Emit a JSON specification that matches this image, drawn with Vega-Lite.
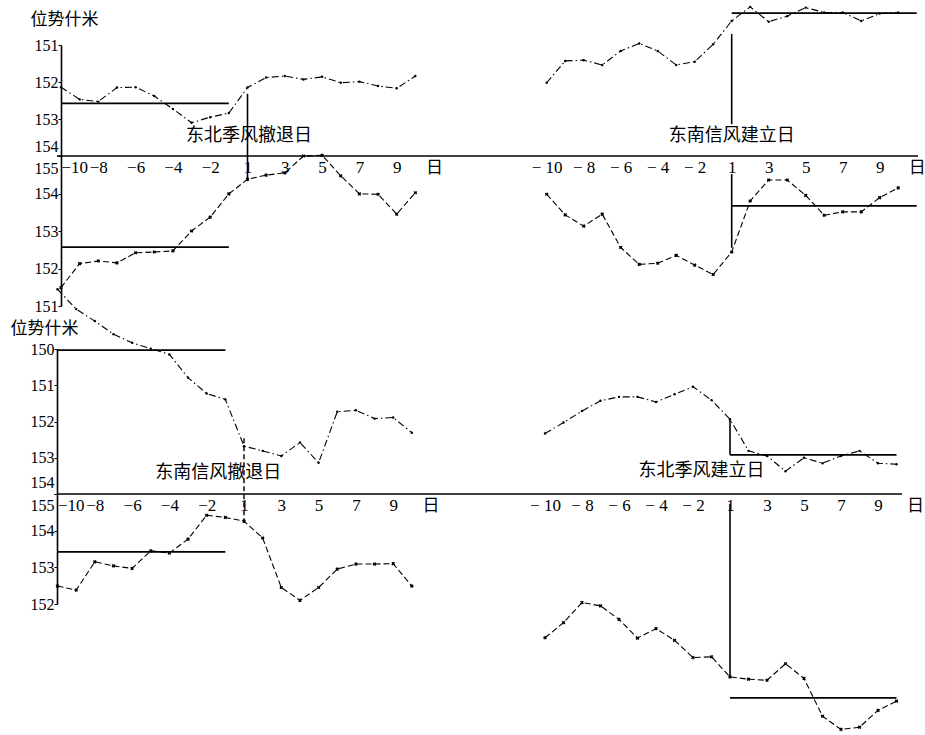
{
  "$schema": "https://vega.github.io/schema/vega-lite/v6.json",
  "background": "white",
  "padding": {"left": 10, "top": 4, "right": 2, "bottom": 2},
  "config": {"view": {"stroke": null}, "axis": {"grid": false}},
  "datasets": {
    "series": [
      {"panel": "TL", "curve": "upper", "day": -10, "value": 152.14},
      {"panel": "TL", "curve": "upper", "day": -9, "value": 152.47},
      {"panel": "TL", "curve": "upper", "day": -8, "value": 152.53},
      {"panel": "TL", "curve": "upper", "day": -7, "value": 152.15},
      {"panel": "TL", "curve": "upper", "day": -6, "value": 152.14},
      {"panel": "TL", "curve": "upper", "day": -5, "value": 152.38},
      {"panel": "TL", "curve": "upper", "day": -4, "value": 152.73},
      {"panel": "TL", "curve": "upper", "day": -3, "value": 153.1},
      {"panel": "TL", "curve": "upper", "day": -2, "value": 152.95},
      {"panel": "TL", "curve": "upper", "day": -1, "value": 152.84},
      {"panel": "TL", "curve": "upper", "day": 1, "value": 152.15},
      {"panel": "TL", "curve": "upper", "day": 2, "value": 151.88},
      {"panel": "TL", "curve": "upper", "day": 3, "value": 151.84},
      {"panel": "TL", "curve": "upper", "day": 4, "value": 151.93},
      {"panel": "TL", "curve": "upper", "day": 5, "value": 151.86},
      {"panel": "TL", "curve": "upper", "day": 6, "value": 152.02},
      {"panel": "TL", "curve": "upper", "day": 7, "value": 151.99},
      {"panel": "TL", "curve": "upper", "day": 8, "value": 152.11},
      {"panel": "TL", "curve": "upper", "day": 9, "value": 152.17},
      {"panel": "TL", "curve": "upper", "day": 10, "value": 151.84},

      {"panel": "TL", "curve": "lower", "day": -10, "value": 151.49},
      {"panel": "TL", "curve": "lower", "day": -9, "value": 152.13},
      {"panel": "TL", "curve": "lower", "day": -8, "value": 152.2},
      {"panel": "TL", "curve": "lower", "day": -7, "value": 152.15},
      {"panel": "TL", "curve": "lower", "day": -6, "value": 152.42},
      {"panel": "TL", "curve": "lower", "day": -5, "value": 152.44},
      {"panel": "TL", "curve": "lower", "day": -4, "value": 152.47},
      {"panel": "TL", "curve": "lower", "day": -3, "value": 153.0},
      {"panel": "TL", "curve": "lower", "day": -2, "value": 153.37},
      {"panel": "TL", "curve": "lower", "day": -1, "value": 153.99},
      {"panel": "TL", "curve": "lower", "day": 1, "value": 154.38},
      {"panel": "TL", "curve": "lower", "day": 2, "value": 154.49},
      {"panel": "TL", "curve": "lower", "day": 3, "value": 154.55},
      {"panel": "TL", "curve": "lower", "day": 4, "value": 155.0},
      {"panel": "TL", "curve": "lower", "day": 5, "value": 155.02},
      {"panel": "TL", "curve": "lower", "day": 6, "value": 154.47},
      {"panel": "TL", "curve": "lower", "day": 7, "value": 153.99},
      {"panel": "TL", "curve": "lower", "day": 8, "value": 153.98},
      {"panel": "TL", "curve": "lower", "day": 9, "value": 153.45},
      {"panel": "TL", "curve": "lower", "day": 10, "value": 154.02},

      {"panel": "TR", "curve": "upper", "day": -10, "value": 152.02},
      {"panel": "TR", "curve": "upper", "day": -9, "value": 151.43},
      {"panel": "TR", "curve": "upper", "day": -8, "value": 151.41},
      {"panel": "TR", "curve": "upper", "day": -7, "value": 151.54},
      {"panel": "TR", "curve": "upper", "day": -6, "value": 151.16},
      {"panel": "TR", "curve": "upper", "day": -5, "value": 150.96},
      {"panel": "TR", "curve": "upper", "day": -4, "value": 151.16},
      {"panel": "TR", "curve": "upper", "day": -3, "value": 151.54},
      {"panel": "TR", "curve": "upper", "day": -2, "value": 151.45},
      {"panel": "TR", "curve": "upper", "day": -1, "value": 150.98},
      {"panel": "TR", "curve": "upper", "day": 1, "value": 150.35},
      {"panel": "TR", "curve": "upper", "day": 2, "value": 149.97},
      {"panel": "TR", "curve": "upper", "day": 3, "value": 150.37},
      {"panel": "TR", "curve": "upper", "day": 4, "value": 150.22},
      {"panel": "TR", "curve": "upper", "day": 5, "value": 149.99},
      {"panel": "TR", "curve": "upper", "day": 6, "value": 150.12},
      {"panel": "TR", "curve": "upper", "day": 7, "value": 150.12},
      {"panel": "TR", "curve": "upper", "day": 8, "value": 150.35},
      {"panel": "TR", "curve": "upper", "day": 9, "value": 150.15},
      {"panel": "TR", "curve": "upper", "day": 10, "value": 150.12},

      {"panel": "TR", "curve": "lower", "day": -10, "value": 153.98},
      {"panel": "TR", "curve": "lower", "day": -9, "value": 153.43},
      {"panel": "TR", "curve": "lower", "day": -8, "value": 153.13},
      {"panel": "TR", "curve": "lower", "day": -7, "value": 153.45},
      {"panel": "TR", "curve": "lower", "day": -6, "value": 152.56},
      {"panel": "TR", "curve": "lower", "day": -5, "value": 152.11},
      {"panel": "TR", "curve": "lower", "day": -4, "value": 152.14},
      {"panel": "TR", "curve": "lower", "day": -3, "value": 152.35},
      {"panel": "TR", "curve": "lower", "day": -2, "value": 152.09},
      {"panel": "TR", "curve": "lower", "day": -1, "value": 151.84},
      {"panel": "TR", "curve": "lower", "day": 1, "value": 152.44},
      {"panel": "TR", "curve": "lower", "day": 2, "value": 153.8},
      {"panel": "TR", "curve": "lower", "day": 3, "value": 154.36},
      {"panel": "TR", "curve": "lower", "day": 4, "value": 154.36},
      {"panel": "TR", "curve": "lower", "day": 5, "value": 153.95},
      {"panel": "TR", "curve": "lower", "day": 6, "value": 153.42},
      {"panel": "TR", "curve": "lower", "day": 7, "value": 153.51},
      {"panel": "TR", "curve": "lower", "day": 8, "value": 153.51},
      {"panel": "TR", "curve": "lower", "day": 9, "value": 153.89},
      {"panel": "TR", "curve": "lower", "day": 10, "value": 154.15},

      {"panel": "BL", "curve": "upper", "day": -10, "value": 148.35},
      {"panel": "BL", "curve": "upper", "day": -9, "value": 148.9},
      {"panel": "BL", "curve": "upper", "day": -8, "value": 149.23},
      {"panel": "BL", "curve": "upper", "day": -7, "value": 149.59},
      {"panel": "BL", "curve": "upper", "day": -6, "value": 149.83},
      {"panel": "BL", "curve": "upper", "day": -5, "value": 149.99},
      {"panel": "BL", "curve": "upper", "day": -4, "value": 150.15},
      {"panel": "BL", "curve": "upper", "day": -3, "value": 150.79},
      {"panel": "BL", "curve": "upper", "day": -2, "value": 151.23},
      {"panel": "BL", "curve": "upper", "day": -1, "value": 151.39},
      {"panel": "BL", "curve": "upper", "day": 1, "value": 152.68},
      {"panel": "BL", "curve": "upper", "day": 2, "value": 152.81},
      {"panel": "BL", "curve": "upper", "day": 3, "value": 152.95},
      {"panel": "BL", "curve": "upper", "day": 4, "value": 152.58},
      {"panel": "BL", "curve": "upper", "day": 5, "value": 153.14},
      {"panel": "BL", "curve": "upper", "day": 6, "value": 151.73},
      {"panel": "BL", "curve": "upper", "day": 7, "value": 151.69},
      {"panel": "BL", "curve": "upper", "day": 8, "value": 151.92},
      {"panel": "BL", "curve": "upper", "day": 9, "value": 151.89},
      {"panel": "BL", "curve": "upper", "day": 10, "value": 152.31},

      {"panel": "BL", "curve": "lower", "day": -10, "value": 152.49},
      {"panel": "BL", "curve": "lower", "day": -9, "value": 152.38},
      {"panel": "BL", "curve": "lower", "day": -8, "value": 153.15},
      {"panel": "BL", "curve": "lower", "day": -7, "value": 153.04},
      {"panel": "BL", "curve": "lower", "day": -6, "value": 152.97},
      {"panel": "BL", "curve": "lower", "day": -5, "value": 153.45},
      {"panel": "BL", "curve": "lower", "day": -4, "value": 153.39},
      {"panel": "BL", "curve": "lower", "day": -3, "value": 153.77},
      {"panel": "BL", "curve": "lower", "day": -2, "value": 154.42},
      {"panel": "BL", "curve": "lower", "day": -1, "value": 154.36},
      {"panel": "BL", "curve": "lower", "day": 1, "value": 154.26},
      {"panel": "BL", "curve": "lower", "day": 2, "value": 153.8},
      {"panel": "BL", "curve": "lower", "day": 3, "value": 152.45},
      {"panel": "BL", "curve": "lower", "day": 4, "value": 152.1},
      {"panel": "BL", "curve": "lower", "day": 5, "value": 152.45},
      {"panel": "BL", "curve": "lower", "day": 6, "value": 152.95},
      {"panel": "BL", "curve": "lower", "day": 7, "value": 153.09},
      {"panel": "BL", "curve": "lower", "day": 8, "value": 153.09},
      {"panel": "BL", "curve": "lower", "day": 9, "value": 153.1},
      {"panel": "BL", "curve": "lower", "day": 10, "value": 152.49},

      {"panel": "BR", "curve": "upper", "day": -10, "value": 152.33},
      {"panel": "BR", "curve": "upper", "day": -9, "value": 152.03},
      {"panel": "BR", "curve": "upper", "day": -8, "value": 151.71},
      {"panel": "BR", "curve": "upper", "day": -7, "value": 151.43},
      {"panel": "BR", "curve": "upper", "day": -6, "value": 151.32},
      {"panel": "BR", "curve": "upper", "day": -5, "value": 151.32},
      {"panel": "BR", "curve": "upper", "day": -4, "value": 151.46},
      {"panel": "BR", "curve": "upper", "day": -3, "value": 151.25},
      {"panel": "BR", "curve": "upper", "day": -2, "value": 151.04},
      {"panel": "BR", "curve": "upper", "day": -1, "value": 151.41},
      {"panel": "BR", "curve": "upper", "day": 1, "value": 151.94},
      {"panel": "BR", "curve": "upper", "day": 2, "value": 152.81},
      {"panel": "BR", "curve": "upper", "day": 3, "value": 152.95},
      {"panel": "BR", "curve": "upper", "day": 4, "value": 153.37},
      {"panel": "BR", "curve": "upper", "day": 5, "value": 153.0},
      {"panel": "BR", "curve": "upper", "day": 6, "value": 153.15},
      {"panel": "BR", "curve": "upper", "day": 7, "value": 152.95},
      {"panel": "BR", "curve": "upper", "day": 8, "value": 152.81},
      {"panel": "BR", "curve": "upper", "day": 9, "value": 153.15},
      {"panel": "BR", "curve": "upper", "day": 10, "value": 153.18},

      {"panel": "BR", "curve": "lower", "day": -10, "value": 151.08},
      {"panel": "BR", "curve": "lower", "day": -9, "value": 151.49},
      {"panel": "BR", "curve": "lower", "day": -8, "value": 152.04},
      {"panel": "BR", "curve": "lower", "day": -7, "value": 151.95},
      {"panel": "BR", "curve": "lower", "day": -6, "value": 151.58},
      {"panel": "BR", "curve": "lower", "day": -5, "value": 151.07},
      {"panel": "BR", "curve": "lower", "day": -4, "value": 151.33},
      {"panel": "BR", "curve": "lower", "day": -3, "value": 151.01},
      {"panel": "BR", "curve": "lower", "day": -2, "value": 150.54},
      {"panel": "BR", "curve": "lower", "day": -1, "value": 150.56},
      {"panel": "BR", "curve": "lower", "day": 1, "value": 150.01},
      {"panel": "BR", "curve": "lower", "day": 2, "value": 149.95},
      {"panel": "BR", "curve": "lower", "day": 3, "value": 149.92},
      {"panel": "BR", "curve": "lower", "day": 4, "value": 150.37},
      {"panel": "BR", "curve": "lower", "day": 5, "value": 149.97},
      {"panel": "BR", "curve": "lower", "day": 6, "value": 148.94},
      {"panel": "BR", "curve": "lower", "day": 7, "value": 148.58},
      {"panel": "BR", "curve": "lower", "day": 8, "value": 148.64},
      {"panel": "BR", "curve": "lower", "day": 9, "value": 149.1},
      {"panel": "BR", "curve": "lower", "day": 10, "value": 149.35}
    ],
    "levels": [
      {"panel": "TL", "curve": "upper", "day": -10, "end": -1, "value": 152.58},
      {"panel": "TL", "curve": "lower", "day": -10, "end": -1, "value": 152.57},
      {"panel": "TR", "curve": "upper", "day": 1, "end": 11, "value": 150.14},
      {"panel": "TR", "curve": "lower", "day": 1, "end": 11, "value": 153.67},
      {"panel": "BL", "curve": "upper", "day": -10, "end": -1, "value": 150.03},
      {"panel": "BL", "curve": "lower", "day": -10, "end": -1, "value": 153.42},
      {"panel": "BR", "curve": "upper", "day": 1, "end": 10, "value": 152.92},
      {"panel": "BR", "curve": "lower", "day": 1, "end": 10, "value": 149.44}
    ],
    "markers": [
      {"panel": "TL", "curve": "upper", "day": 1, "top": 152.32, "bottom": 154.68},
      {"panel": "TR", "curve": "upper", "day": 1, "top": 150.7, "bottom": 153.14},
      {"panel": "TR", "curve": "lower", "day": 1, "top": 154.52, "bottom": 152.55},
      {"panel": "BL", "curve": "upper", "day": 1, "top": 152.46, "bottom": 154.8},
      {"panel": "BR", "curve": "upper", "day": 1, "top": 151.93, "bottom": 152.92},
      {"panel": "BR", "curve": "lower", "day": 1, "top": 154.73, "bottom": 150.01}
    ],
    "notes": [
      {"panel": "TL", "label": "东北季风撤退日", "day": 1, "value": 153.46},
      {"panel": "TR", "label": "东南信风建立日", "day": 1, "value": 153.46},
      {"panel": "BL", "label": "东南信风撤退日", "day": -1, "value": 153.42},
      {"panel": "BR", "label": "东北季风建立日", "day": -1, "value": 153.37}
    ]
  },
  "bounds": "flush",
  "align": "each",
  "columns": 2,
  "spacing": {"row": 43, "column": 0},
  "concat": [
        {
          "width": 403,
          "height": 261,
          "layer": [
            {
              "data": {"values": [{}]},
              "mark": {"type": "rule", "color": "black", "strokeWidth": 1.6},
              "encoding": {"y": {"datum": 154, "type": "quantitative", "scale": {"domain": [151, 158.054], "reverse": true, "zero": false, "nice": false}, "axis": null}}
            },
            {
              "encoding": {
                "x": {
                  "field": "day", "type": "ordinal",
                  "scale": {"type": "point", "domain": [-10, -9, -8, -7, -6, -5, -4, -3, -2, -1, 1, 2, 3, 4, 5, 6, 7, 8, 9, 10, 11], "range": [4, 377], "padding": 0},
                  "axis": {
                    "orient": "bottom", "offset": -150, "values": [-10, -8, -6, -4, -2, 1, 3, 5, 7, 9, 11],
                    "domain": false, "ticks": false, "title": null, "labelAngle": 0, "labelPadding": 3,
                    "labelFontSize": 17, "labelColor": "black", "labelOverlap": false, "labelFlush": false,
                    "labelFont": {"condition": {"test": "datum.value === 11", "value": "Noto Sans CJK SC"}, "value": "Liberation Serif"},
                    "labelAlign": {"condition": {"test": "datum.value === -10", "value": "left"}, "value": "center"},
                    "labelExpr": "datum.value === 11 ? '日' : (datum.value < 0 ? '−' + (-datum.value) : datum.label)"
                  }
                }
              },
              "layer": [
                {
                  "data": {"name": "series"},
                  "transform": [{"filter": "datum.panel === 'TL' && datum.curve === 'upper'"}],
                  "mark": {"type": "line", "color": "black", "strokeWidth": 1.1, "strokeDash": [7, 3, 1.5, 3]},
                  "encoding": {"y": {"field": "value", "type": "quantitative", "scale": {"domain": [151, 158.054], "reverse": true, "zero": false, "nice": false},
                    "axis": {
                      "orient": "left", "offset": -4, "values": [151, 152, 153, 154], "format": "d",
                      "title": "位势什米", "titleAngle": 0, "titleAlign": "left", "titleBaseline": "alphabetic", "titleX": -31, "titleY": -21,
                      "titleFont": "Noto Sans CJK SC", "titleFontSize": 17, "titleFontWeight": "normal", "titleColor": "black",
                      "domain": true, "domainColor": "black", "domainWidth": 1.6, "ticks": true, "tickSize": 3, "tickColor": "black",
                      "labelFont": "Liberation Serif", "labelFontSize": 16, "labelColor": "black", "labelPadding": 0,
                      "labelOverlap": false, "labelFlush": false,
                      "labelOffset": {"condition": {"test": "datum.value === 154", "value": -10}, "value": 0}
                    }}}
                },
                {
                  "data": {"name": "series"},
                  "transform": [{"filter": "datum.panel === 'TL' && datum.curve === 'upper'"}],
                  "mark": {"type": "point", "filled": true, "color": "black", "size": 6, "opacity": 1},
                  "encoding": {"y": {"field": "value", "type": "quantitative", "scale": {"domain": [151, 158.054], "reverse": true, "zero": false, "nice": false}}}
                },
                {
                  "data": {"name": "levels"},
                  "transform": [{"filter": "datum.panel === 'TL' && datum.curve === 'upper'"}],
                  "mark": {"type": "rule", "color": "black", "strokeWidth": 1.8},
                  "encoding": {"x2": {"field": "end"}, "y": {"field": "value", "type": "quantitative", "scale": {"domain": [151, 158.054], "reverse": true, "zero": false, "nice": false}}}
                },
                {
                  "data": {"name": "markers"},
                  "transform": [{"filter": "datum.panel === 'TL' && datum.curve === 'upper'"}],
                  "mark": {"type": "rule", "color": "black", "strokeWidth": 1.6},
                  "encoding": {"y": {"field": "top", "type": "quantitative", "scale": {"domain": [151, 158.054], "reverse": true, "zero": false, "nice": false}}, "y2": {"field": "bottom"}}
                },
                {
                  "data": {"name": "notes"},
                  "transform": [{"filter": "datum.panel === 'TL'"}],
                  "mark": {"type": "text", "font": "Noto Sans CJK SC", "fontSize": 18, "color": "black", "align": "center", "baseline": "middle", "dx": 1.5},
                  "encoding": {"y": {"field": "value", "type": "quantitative", "scale": {"domain": [151, 158.054], "reverse": true, "zero": false, "nice": false}}, "text": {"field": "label"}}
                }
              ]
            },
            {
              "encoding": {
                "x": {
                  "field": "day", "type": "ordinal",
                  "scale": {"type": "point", "domain": [-10, -9, -8, -7, -6, -5, -4, -3, -2, -1, 1, 2, 3, 4, 5, 6, 7, 8, 9, 10, 11], "range": [4, 377], "padding": 0}
                }
              },
              "layer": [
                {
                  "data": {"name": "series"},
                  "transform": [{"filter": "datum.panel === 'TL' && datum.curve === 'lower'"}],
                  "mark": {"type": "line", "color": "black", "strokeWidth": 1.1, "strokeDash": [6, 3]},
                  "encoding": {"y": {"field": "value", "type": "quantitative", "scale": {"domain": [151, 157.96], "zero": false, "nice": false},
                    "axis": {
                      "orient": "left", "offset": -4, "values": [151, 152, 153, 154, 155], "format": "d", "title": null,
                      "domain": false, "ticks": true, "tickSize": 3, "tickColor": "black",
                      "labelFont": "Liberation Serif", "labelFontSize": 16, "labelColor": "black", "labelPadding": 0,
                      "labelOverlap": false, "labelFlush": false,
                      "labelOffset": {"condition": {"test": "datum.value === 155", "value": 12}, "value": 0}
                    }}}
                },
                {
                  "data": {"name": "series"},
                  "transform": [{"filter": "datum.panel === 'TL' && datum.curve === 'lower'"}],
                  "mark": {"type": "point", "shape": "cross", "angle": 45, "filled": true, "color": "black", "size": 14, "opacity": 1},
                  "encoding": {"y": {"field": "value", "type": "quantitative", "scale": {"domain": [151, 157.96], "zero": false, "nice": false}}}
                },
                {
                  "data": {"name": "levels"},
                  "transform": [{"filter": "datum.panel === 'TL' && datum.curve === 'lower'"}],
                  "mark": {"type": "rule", "color": "black", "strokeWidth": 1.8},
                  "encoding": {"x2": {"field": "end"}, "y": {"field": "value", "type": "quantitative", "scale": {"domain": [151, 157.96], "zero": false, "nice": false}}}
                }
              ]
            }
          ],
          "resolve": {"scale": {"y": "independent"}, "axis": {"y": "independent"}}
        },
        {
          "width": 458,
          "height": 261,
          "layer": [
            {
              "data": {"values": [{}]},
              "mark": {"type": "rule", "color": "black", "strokeWidth": 1.6},
              "encoding": {"y": {"datum": 154, "type": "quantitative", "scale": {"domain": [151, 158.054], "reverse": true, "zero": false, "nice": false}, "axis": null}}
            },
            {
              "encoding": {
                "x": {
                  "field": "day", "type": "ordinal",
                  "scale": {"type": "point", "domain": [-10, -9, -8, -7, -6, -5, -4, -3, -2, -1, 1, 2, 3, 4, 5, 6, 7, 8, 9, 10, 11], "range": [86.7, 456.7], "padding": 0},
                  "axis": {
                    "orient": "bottom", "offset": -150, "values": [-10, -8, -6, -4, -2, 1, 3, 5, 7, 9, 11],
                    "domain": false, "ticks": false, "title": null, "labelAngle": 0, "labelPadding": 3,
                    "labelFontSize": 17, "labelColor": "black", "labelOverlap": false, "labelFlush": false,
                    "labelFont": {"condition": {"test": "datum.value === 11", "value": "Noto Sans CJK SC"}, "value": "Liberation Serif"},
                    "labelAlign": "center",
                    "labelExpr": "datum.value === 11 ? '日' : (datum.value < 0 ? '− ' + (-datum.value) : datum.label)"
                  }
                }
              },
              "layer": [
                {
                  "data": {"name": "series"},
                  "transform": [{"filter": "datum.panel === 'TR' && datum.curve === 'upper'"}],
                  "mark": {"type": "line", "color": "black", "strokeWidth": 1.1, "strokeDash": [7, 3, 1.5, 3]},
                  "encoding": {"y": {"field": "value", "type": "quantitative", "scale": {"domain": [151, 158.054], "reverse": true, "zero": false, "nice": false}, "axis": null}}
                },
                {
                  "data": {"name": "series"},
                  "transform": [{"filter": "datum.panel === 'TR' && datum.curve === 'upper'"}],
                  "mark": {"type": "point", "filled": true, "color": "black", "size": 6, "opacity": 1},
                  "encoding": {"y": {"field": "value", "type": "quantitative", "scale": {"domain": [151, 158.054], "reverse": true, "zero": false, "nice": false}, "axis": null}}
                },
                {
                  "data": {"name": "levels"},
                  "transform": [{"filter": "datum.panel === 'TR' && datum.curve === 'upper'"}],
                  "mark": {"type": "rule", "color": "black", "strokeWidth": 1.8},
                  "encoding": {"x2": {"field": "end"}, "y": {"field": "value", "type": "quantitative", "scale": {"domain": [151, 158.054], "reverse": true, "zero": false, "nice": false}, "axis": null}}
                },
                {
                  "data": {"name": "markers"},
                  "transform": [{"filter": "datum.panel === 'TR' && datum.curve === 'upper'"}],
                  "mark": {"type": "rule", "color": "black", "strokeWidth": 1.6},
                  "encoding": {"y": {"field": "top", "type": "quantitative", "scale": {"domain": [151, 158.054], "reverse": true, "zero": false, "nice": false}, "axis": null}, "y2": {"field": "bottom"}}
                },
                {
                  "data": {"name": "notes"},
                  "transform": [{"filter": "datum.panel === 'TR'"}],
                  "mark": {"type": "text", "font": "Noto Sans CJK SC", "fontSize": 18, "color": "black", "align": "center", "baseline": "middle"},
                  "encoding": {"y": {"field": "value", "type": "quantitative", "scale": {"domain": [151, 158.054], "reverse": true, "zero": false, "nice": false}, "axis": null}, "text": {"field": "label"}}
                }
              ]
            },
            {
              "encoding": {
                "x": {
                  "field": "day", "type": "ordinal",
                  "scale": {"type": "point", "domain": [-10, -9, -8, -7, -6, -5, -4, -3, -2, -1, 1, 2, 3, 4, 5, 6, 7, 8, 9, 10, 11], "range": [86.7, 456.7], "padding": 0}
                }
              },
              "layer": [
                {
                  "data": {"name": "series"},
                  "transform": [{"filter": "datum.panel === 'TR' && datum.curve === 'lower'"}],
                  "mark": {"type": "line", "color": "black", "strokeWidth": 1.1, "strokeDash": [6, 3]},
                  "encoding": {"y": {"field": "value", "type": "quantitative", "scale": {"domain": [151, 157.96], "zero": false, "nice": false}, "axis": null}}
                },
                {
                  "data": {"name": "series"},
                  "transform": [{"filter": "datum.panel === 'TR' && datum.curve === 'lower'"}],
                  "mark": {"type": "point", "shape": "cross", "angle": 45, "filled": true, "color": "black", "size": 14, "opacity": 1},
                  "encoding": {"y": {"field": "value", "type": "quantitative", "scale": {"domain": [151, 157.96], "zero": false, "nice": false}, "axis": null}}
                },
                {
                  "data": {"name": "levels"},
                  "transform": [{"filter": "datum.panel === 'TR' && datum.curve === 'lower'"}],
                  "mark": {"type": "rule", "color": "black", "strokeWidth": 1.8},
                  "encoding": {"x2": {"field": "end"}, "y": {"field": "value", "type": "quantitative", "scale": {"domain": [151, 157.96], "zero": false, "nice": false}, "axis": null}}
                },
                {
                  "data": {"name": "markers"},
                  "transform": [{"filter": "datum.panel === 'TR' && datum.curve === 'lower'"}],
                  "mark": {"type": "rule", "color": "black", "strokeWidth": 1.6},
                  "encoding": {"y": {"field": "top", "type": "quantitative", "scale": {"domain": [151, 157.96], "zero": false, "nice": false}, "axis": null}, "y2": {"field": "bottom"}}
                }
              ]
            }
          ],
          "resolve": {"scale": {"y": "independent"}, "axis": {"y": "independent"}}
        },
        {
          "width": 403,
          "height": 255,
          "layer": [
            {
              "data": {"values": [{}]},
              "mark": {"type": "rule", "color": "black", "strokeWidth": 1.6},
              "encoding": {"y": {"datum": 154, "type": "quantitative", "scale": {"domain": [150, 157.034], "reverse": true, "zero": false, "nice": false}, "axis": null}}
            },
            {
              "encoding": {
                "x": {
                  "field": "day", "type": "ordinal",
                  "scale": {"type": "point", "domain": [-10, -9, -8, -7, -6, -5, -4, -3, -2, -1, 1, 2, 3, 4, 5, 6, 7, 8, 9, 10, 11], "range": [0.5, 373.5], "padding": 0},
                  "axis": {
                    "orient": "bottom", "offset": -110, "values": [-10, -8, -6, -4, -2, 1, 3, 5, 7, 9, 11],
                    "domain": false, "ticks": false, "title": null, "labelAngle": 0, "labelPadding": 3,
                    "labelFontSize": 17, "labelColor": "black", "labelOverlap": false, "labelFlush": false,
                    "labelFont": {"condition": {"test": "datum.value === 11", "value": "Noto Sans CJK SC"}, "value": "Liberation Serif"},
                    "labelAlign": {"condition": {"test": "datum.value === -10", "value": "left"}, "value": "center"},
                    "labelExpr": "datum.value === 11 ? '日' : (datum.value < 0 ? '−' + (-datum.value) : datum.label)"
                  }
                }
              },
              "layer": [
                {
                  "data": {"name": "series"},
                  "transform": [{"filter": "datum.panel === 'BL' && datum.curve === 'upper'"}],
                  "mark": {"type": "line", "color": "black", "strokeWidth": 1.1, "strokeDash": [7, 3, 1.5, 3]},
                  "encoding": {"y": {"field": "value", "type": "quantitative", "scale": {"domain": [150, 157.034], "reverse": true, "zero": false, "nice": false},
                    "axis": {
                      "orient": "left", "offset": 0, "values": [150, 151, 152, 153, 154], "format": "d",
                      "title": "位势什米", "titleAngle": 0, "titleAlign": "left", "titleBaseline": "alphabetic", "titleX": -47, "titleY": -16,
                      "titleFont": "Noto Sans CJK SC", "titleFontSize": 17, "titleFontWeight": "normal", "titleColor": "black",
                      "domain": true, "domainColor": "black", "domainWidth": 1.6, "ticks": true, "tickSize": 3, "tickColor": "black",
                      "labelFont": "Liberation Serif", "labelFontSize": 16, "labelColor": "black", "labelPadding": 0,
                      "labelOverlap": false, "labelFlush": false,
                      "labelOffset": {"condition": {"test": "datum.value === 154", "value": -12}, "value": 0}
                    }}}
                },
                {
                  "data": {"name": "series"},
                  "transform": [{"filter": "datum.panel === 'BL' && datum.curve === 'upper'"}],
                  "mark": {"type": "point", "filled": true, "color": "black", "size": 6, "opacity": 1},
                  "encoding": {"y": {"field": "value", "type": "quantitative", "scale": {"domain": [150, 157.034], "reverse": true, "zero": false, "nice": false}}}
                },
                {
                  "data": {"name": "levels"},
                  "transform": [{"filter": "datum.panel === 'BL' && datum.curve === 'upper'"}],
                  "mark": {"type": "rule", "color": "black", "strokeWidth": 1.8},
                  "encoding": {"x2": {"field": "end"}, "y": {"field": "value", "type": "quantitative", "scale": {"domain": [150, 157.034], "reverse": true, "zero": false, "nice": false}}}
                },
                {
                  "data": {"name": "markers"},
                  "transform": [{"filter": "datum.panel === 'BL' && datum.curve === 'upper'"}],
                  "mark": {"type": "rule", "color": "black", "strokeWidth": 1.4, "strokeDash": [5, 3]},
                  "encoding": {"y": {"field": "top", "type": "quantitative", "scale": {"domain": [150, 157.034], "reverse": true, "zero": false, "nice": false}}, "y2": {"field": "bottom"}}
                },
                {
                  "data": {"name": "notes"},
                  "transform": [{"filter": "datum.panel === 'BL'"}],
                  "mark": {"type": "text", "font": "Noto Sans CJK SC", "fontSize": 18, "color": "black", "align": "center", "baseline": "middle", "dx": -7},
                  "encoding": {"y": {"field": "value", "type": "quantitative", "scale": {"domain": [150, 157.034], "reverse": true, "zero": false, "nice": false}}, "text": {"field": "label"}}
                }
              ]
            },
            {
              "encoding": {
                "x": {
                  "field": "day", "type": "ordinal",
                  "scale": {"type": "point", "domain": [-10, -9, -8, -7, -6, -5, -4, -3, -2, -1, 1, 2, 3, 4, 5, 6, 7, 8, 9, 10, 11], "range": [0.5, 373.5], "padding": 0}
                }
              },
              "layer": [
                {
                  "data": {"name": "series"},
                  "transform": [{"filter": "datum.panel === 'BL' && datum.curve === 'lower'"}],
                  "mark": {"type": "line", "color": "black", "strokeWidth": 1.1, "strokeDash": [6, 3]},
                  "encoding": {"y": {"field": "value", "type": "quantitative", "scale": {"domain": [152, 158.954], "zero": false, "nice": false},
                    "axis": {
                      "orient": "left", "offset": 0, "values": [152, 153, 154, 155], "format": "d", "title": null,
                      "domain": false, "ticks": true, "tickSize": 3, "tickColor": "black",
                      "labelFont": "Liberation Serif", "labelFontSize": 16, "labelColor": "black", "labelPadding": 0,
                      "labelOverlap": false, "labelFlush": false,
                      "labelOffset": {"condition": {"test": "datum.value === 155", "value": 12}, "value": 0}
                    }}}
                },
                {
                  "data": {"name": "series"},
                  "transform": [{"filter": "datum.panel === 'BL' && datum.curve === 'lower'"}],
                  "mark": {"type": "point", "shape": "cross", "angle": 45, "filled": true, "color": "black", "size": 14, "opacity": 1},
                  "encoding": {"y": {"field": "value", "type": "quantitative", "scale": {"domain": [152, 158.954], "zero": false, "nice": false}}}
                },
                {
                  "data": {"name": "levels"},
                  "transform": [{"filter": "datum.panel === 'BL' && datum.curve === 'lower'"}],
                  "mark": {"type": "rule", "color": "black", "strokeWidth": 1.8},
                  "encoding": {"x2": {"field": "end"}, "y": {"field": "value", "type": "quantitative", "scale": {"domain": [152, 158.954], "zero": false, "nice": false}}}
                }
              ]
            }
          ],
          "resolve": {"scale": {"y": "independent"}, "axis": {"y": "independent"}}
        },
        {
          "width": 442,
          "height": 255,
          "layer": [
            {
              "data": {"values": [{}]},
              "mark": {"type": "rule", "color": "black", "strokeWidth": 1.6},
              "encoding": {"y": {"datum": 154, "type": "quantitative", "scale": {"domain": [150, 157.034], "reverse": true, "zero": false, "nice": false}, "axis": null}}
            },
            {
              "encoding": {
                "x": {
                  "field": "day", "type": "ordinal",
                  "scale": {"type": "point", "domain": [-10, -9, -8, -7, -6, -5, -4, -3, -2, -1, 1, 2, 3, 4, 5, 6, 7, 8, 9, 10, 11], "range": [85, 455], "padding": 0},
                  "axis": {
                    "orient": "bottom", "offset": -110, "values": [-10, -8, -6, -4, -2, 1, 3, 5, 7, 9, 11],
                    "domain": false, "ticks": false, "title": null, "labelAngle": 0, "labelPadding": 3,
                    "labelFontSize": 17, "labelColor": "black", "labelOverlap": false, "labelFlush": false,
                    "labelFont": {"condition": {"test": "datum.value === 11", "value": "Noto Sans CJK SC"}, "value": "Liberation Serif"},
                    "labelAlign": "center",
                    "labelExpr": "datum.value === 11 ? '日' : (datum.value < 0 ? '− ' + (-datum.value) : datum.label)"
                  }
                }
              },
              "layer": [
                {
                  "data": {"name": "series"},
                  "transform": [{"filter": "datum.panel === 'BR' && datum.curve === 'upper'"}],
                  "mark": {"type": "line", "color": "black", "strokeWidth": 1.1, "strokeDash": [7, 3, 1.5, 3]},
                  "encoding": {"y": {"field": "value", "type": "quantitative", "scale": {"domain": [150, 157.034], "reverse": true, "zero": false, "nice": false}, "axis": null}}
                },
                {
                  "data": {"name": "series"},
                  "transform": [{"filter": "datum.panel === 'BR' && datum.curve === 'upper'"}],
                  "mark": {"type": "point", "filled": true, "color": "black", "size": 6, "opacity": 1},
                  "encoding": {"y": {"field": "value", "type": "quantitative", "scale": {"domain": [150, 157.034], "reverse": true, "zero": false, "nice": false}, "axis": null}}
                },
                {
                  "data": {"name": "levels"},
                  "transform": [{"filter": "datum.panel === 'BR' && datum.curve === 'upper'"}],
                  "mark": {"type": "rule", "color": "black", "strokeWidth": 1.8},
                  "encoding": {"x2": {"field": "end"}, "y": {"field": "value", "type": "quantitative", "scale": {"domain": [150, 157.034], "reverse": true, "zero": false, "nice": false}, "axis": null}}
                },
                {
                  "data": {"name": "markers"},
                  "transform": [{"filter": "datum.panel === 'BR' && datum.curve === 'upper'"}],
                  "mark": {"type": "rule", "color": "black", "strokeWidth": 1.6},
                  "encoding": {"y": {"field": "top", "type": "quantitative", "scale": {"domain": [150, 157.034], "reverse": true, "zero": false, "nice": false}, "axis": null}, "y2": {"field": "bottom"}}
                },
                {
                  "data": {"name": "notes"},
                  "transform": [{"filter": "datum.panel === 'BR'"}],
                  "mark": {"type": "text", "font": "Noto Sans CJK SC", "fontSize": 18, "color": "black", "align": "center", "baseline": "middle", "dx": -10},
                  "encoding": {"y": {"field": "value", "type": "quantitative", "scale": {"domain": [150, 157.034], "reverse": true, "zero": false, "nice": false}, "axis": null}, "text": {"field": "label"}}
                }
              ]
            },
            {
              "encoding": {
                "x": {
                  "field": "day", "type": "ordinal",
                  "scale": {"type": "point", "domain": [-10, -9, -8, -7, -6, -5, -4, -3, -2, -1, 1, 2, 3, 4, 5, 6, 7, 8, 9, 10, 11], "range": [85, 455], "padding": 0}
                }
              },
              "layer": [
                {
                  "data": {"name": "series"},
                  "transform": [{"filter": "datum.panel === 'BR' && datum.curve === 'lower'"}],
                  "mark": {"type": "line", "color": "black", "strokeWidth": 1.1, "strokeDash": [6, 3]},
                  "encoding": {"y": {"field": "value", "type": "quantitative", "scale": {"domain": [152, 158.954], "zero": false, "nice": false}, "axis": null}}
                },
                {
                  "data": {"name": "series"},
                  "transform": [{"filter": "datum.panel === 'BR' && datum.curve === 'lower'"}],
                  "mark": {"type": "point", "shape": "cross", "angle": 45, "filled": true, "color": "black", "size": 14, "opacity": 1},
                  "encoding": {"y": {"field": "value", "type": "quantitative", "scale": {"domain": [152, 158.954], "zero": false, "nice": false}, "axis": null}}
                },
                {
                  "data": {"name": "levels"},
                  "transform": [{"filter": "datum.panel === 'BR' && datum.curve === 'lower'"}],
                  "mark": {"type": "rule", "color": "black", "strokeWidth": 1.8},
                  "encoding": {"x2": {"field": "end"}, "y": {"field": "value", "type": "quantitative", "scale": {"domain": [152, 158.954], "zero": false, "nice": false}, "axis": null}}
                },
                {
                  "data": {"name": "markers"},
                  "transform": [{"filter": "datum.panel === 'BR' && datum.curve === 'lower'"}],
                  "mark": {"type": "rule", "color": "black", "strokeWidth": 1.6},
                  "encoding": {"y": {"field": "top", "type": "quantitative", "scale": {"domain": [152, 158.954], "zero": false, "nice": false}, "axis": null}, "y2": {"field": "bottom"}}
                }
              ]
            }
          ],
          "resolve": {"scale": {"y": "independent"}, "axis": {"y": "independent"}}
        }
  ]
}
